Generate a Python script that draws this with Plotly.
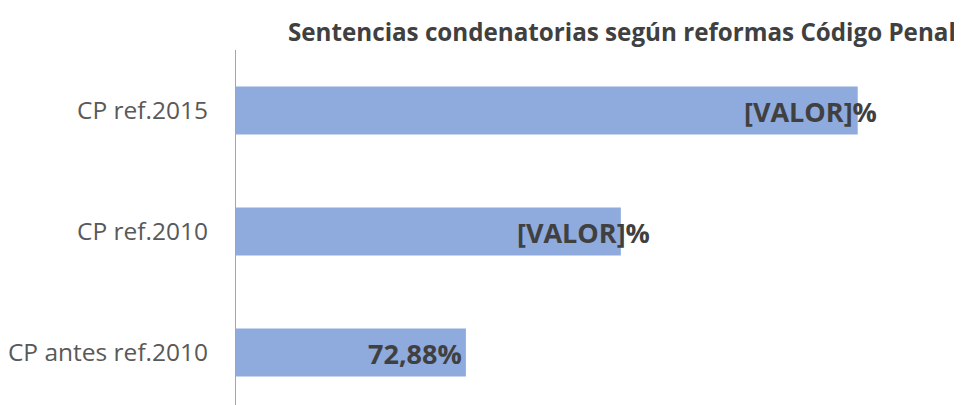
import plotly.graph_objects as go

title_text = "Sentencias condenatorias según reformas Código Penal"
categories = ["CP antes ref.2010", "CP ref.2010", "CP ref.2015"]
values = [72.88, 81.56, 94.83]
labels = ["72,88%", "[VALOR]%", "[VALOR]%"]

FONT = "Open Sans"
BAR_COLOR = "#8faadc"
# horizontal offset (px) of each data label relative to the bar end
LABEL_XSHIFT = {"CP antes ref.2010": -2, "CP ref.2010": 31, "CP ref.2015": 21}

fig = go.Figure(
    go.Bar(
        y=categories,
        x=values,
        orientation="h",
        marker=dict(color=BAR_COLOR, line=dict(width=0)),
        width=0.397,
        hoverinfo="x+y",
    )
)

for cat, val, lab in zip(categories, values, labels):
    fig.add_annotation(
        x=val, y=cat, xref="x", yref="y",
        text="<b>%s</b>" % lab,
        showarrow=False, xanchor="right", yanchor="middle",
        xshift=LABEL_XSHIFT[cat], yshift=-1,
        font=dict(family=FONT, size=27, color="#404040"),
    )

fig.add_annotation(
    x=0.5406, y=1.0535, xref="paper", yref="paper",
    text="<b>%s</b>" % title_text,
    showarrow=False, xanchor="center", yanchor="middle",
    font=dict(family=FONT, size=24.2, color="#404040"),
)

fig.update_layout(
    width=954, height=397,
    margin=dict(l=228, r=12, t=42, b=0, autoexpand=False),
    paper_bgcolor="white", plot_bgcolor="white",
    showlegend=False,
    xaxis=dict(range=[60, 100], visible=False, fixedrange=True),
    yaxis=dict(
        range=[-0.434, 2.5],
        categoryorder="array", categoryarray=categories,
        showline=True, linecolor="#a6a6a6", linewidth=1,
        ticks="", showgrid=False, zeroline=False, automargin=False,
        tickfont=dict(family=FONT, size=24.5, color="#595959"),
        ticklabelstandoff=22,
    ),
)

fig.write_html("out.html")
